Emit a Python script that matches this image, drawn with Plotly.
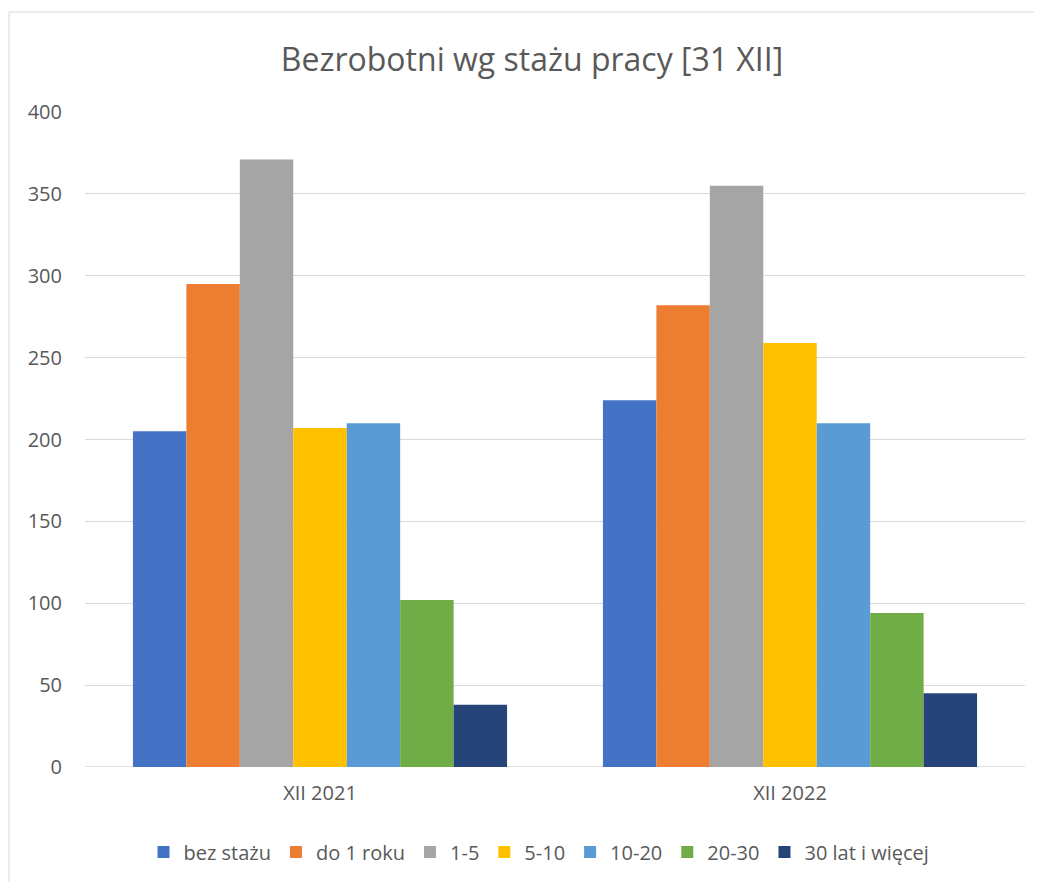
import plotly.graph_objects as go

categories = ["XII 2021", "XII 2022"]
series_names = ["bez stażu", "do 1 roku", "1-5", "5-10", "10-20", "20-30", "30 lat i więcej"]
values_2021 = [205, 295, 371, 207, 210, 102, 38]
values_2022 = [224, 282, 355, 259, 210, 94, 45]
colors = ["#4472C4", "#ED7D31", "#A5A5A5", "#FFC000", "#5B9BD5", "#70AD47", "#264478"]
y_ticks = [0, 50, 100, 150, 200, 250, 300, 350, 400]

fig = go.Figure()
for i, name in enumerate(series_names):
    fig.add_trace(go.Bar(
        x=categories,
        y=[values_2021[i], values_2022[i]],
        name=name,
        marker=dict(color=colors[i], line=dict(width=0)),
    ))

font_family = "'Open Sans', Lato, sans-serif"
W, H = 1042, 882
L, T, R, B = 77, 104, 25, 123
PW, PH = W - L - R, H - T - B

fig.update_layout(
    width=W, height=H,
    margin=dict(l=L, r=R, t=T, b=B, autoexpand=False),
    paper_bgcolor="white", plot_bgcolor="white",
    barmode="group", bargap=0.204, bargroupgap=0,
    font=dict(family=font_family, color="#595959", size=18),
    title=dict(text="Bezrobotni wg stażu pracy [31 XII]", x=524 / W, xref="container",
               y=1 - 52 / H, yref="container", xanchor="center", yanchor="middle",
               font=dict(size=32, color="#595959", family=font_family)),
    showlegend=True,
    legend=dict(orientation="h", x=(531 - L) / PW, xanchor="center", y=(T + PH - 844) / PH, yanchor="middle",
                font=dict(size=20, color="#595959"), traceorder="normal",
                itemwidth=30, tracegroupgap=0),
    xaxis=dict(showgrid=False, showline=False, ticks="", ticklabelstandoff=12,
               tickfont=dict(size=20, color="#595959")),
    yaxis=dict(range=[0, 400], tickvals=y_ticks, showgrid=True, gridcolor="#D9D9D9", gridwidth=1.3,
               zeroline=False, showline=False, ticks="", ticklabelstandoff=22,
               tickfont=dict(size=20, color="#595959")),
)
fig.add_shape(type="line", xref="paper", yref="y", x0=0, x1=1, y0=0, y1=0,
              line=dict(color="#D9D9D9", width=1.3), layer="below")
fig.add_shape(type="rect", xref="paper", yref="paper",
              x0=(1 - L) / PW, x1=1.1, y0=-0.3, y1=(T + PH - 4) / PH,
              line=dict(color="#D9D9D9", width=1), fillcolor="rgba(0,0,0,0)", layer="below")

fig.write_html("out.html")
